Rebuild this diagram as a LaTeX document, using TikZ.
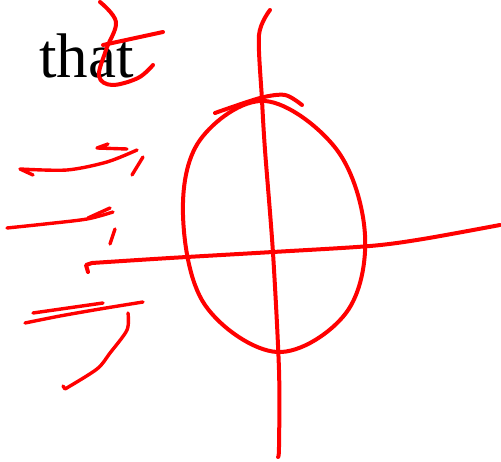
\documentclass[tikz,border=0pt]{standalone}
\usepackage{fontspec}
\setmainfont{Liberation Serif}
\begin{document}
\begin{tikzpicture}[x=1pt,y=-1pt,
  ink/.style={draw=red,line width=4pt,line cap=round,line join=round},
  thinink/.style={draw=red,line width=3.4pt,line cap=round,line join=round}]
\useasboundingbox (0,0) rectangle (501,462);
% text
\node[anchor=base west,inner sep=0pt,font=\fontsize{63}{63}\selectfont] (txt) at (39,78) {that};
% strokes over the text
\draw[ink] plot[smooth,tension=0.6] coordinates {(100,2) (116,22) (106,50) (99,76) (112,85) (138,78) (153,65)};
\draw[ink] (103,45) -- (163,32);
% left strokes
\draw[thinink] plot[smooth] coordinates {(137,150) (107,162) (67,170) (20,169)} -- (33,175);
\draw[thinink] (127,149) -- (97,148) -- (108,144);
\draw[thinink] (143,157) -- (132,175);
\draw[thinink] plot[smooth] coordinates {(113,212) (87,219) (45,224) (7,228)};
\draw[thinink] (88,218) -- (110,208);
\draw[thinink] (115,229) -- (110,244);
\draw[thinink] plot[smooth] coordinates {(143,302) (100,309) (60,316) (25,323)};
\draw[thinink] (33,313) -- (103,303);
\draw[thinink] plot[smooth] coordinates {(128,313) (127,330) (110,353) (97,369) (65,389)} -- (63,386);
% horizontal line
\draw[ink] (88,272) -- (86,265) -- plot[smooth] coordinates {(92,263) (170,258) (273,252) (370,246) (423,239) (500,225)};
% vertical line
\draw[ink] plot[smooth] coordinates {(270,10) (259,35) (262,100) (265,150) (273,253) (279,370) (279,447) (278,457)};
% ellipse
\draw[ink] plot[smooth cycle,tension=0.6] coordinates {(265,101) (337,150) (365,235) (346,313) (277,352) (205,305) (183,215) (200,140)};
% top arc
\draw[ink] plot[smooth] coordinates {(215,113) (260,98) (285,95) (302,105)};
\end{tikzpicture}
\end{document}
